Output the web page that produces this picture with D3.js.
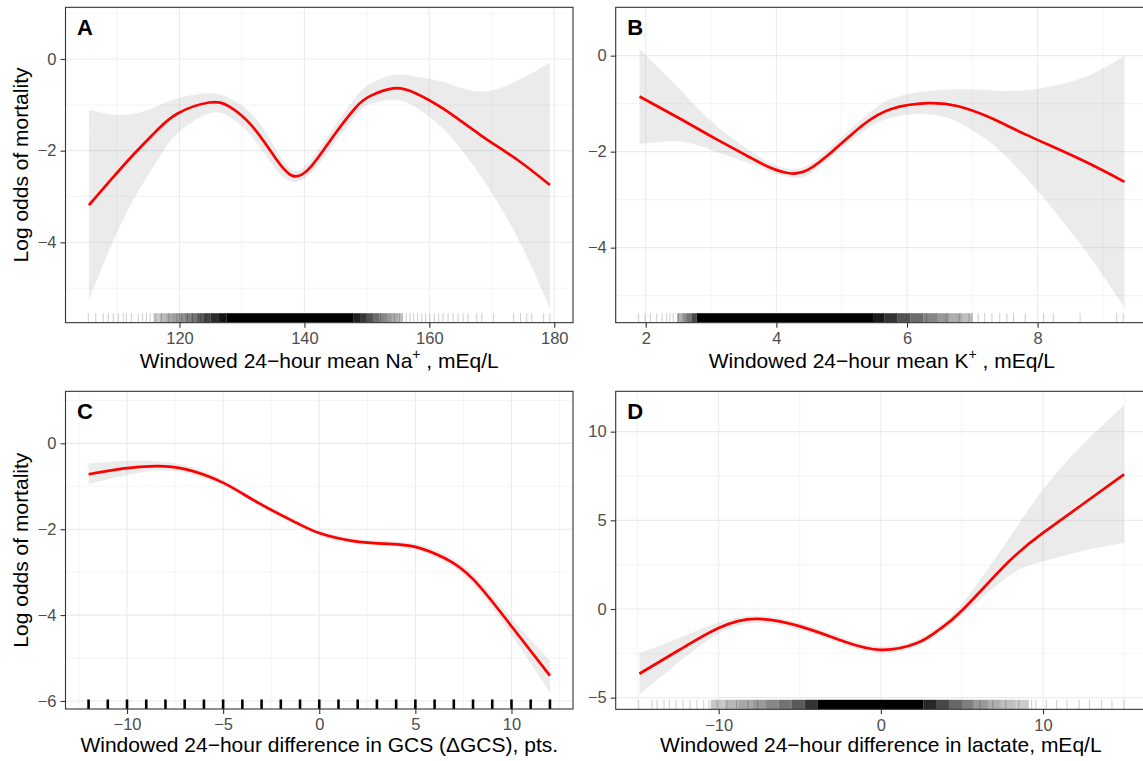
<!DOCTYPE html>
<html>
<head>
<meta charset="utf-8">
<script src="https://cdn.jsdelivr.net/npm/d3@7"></script>
<style>
  html, body { margin: 0; padding: 0; background: #fff; }
  svg { display: block; }
  text { font-family: "Liberation Sans", Arial, Helvetica, sans-serif; }
</style>
</head>
<body>
<svg id="chart" width="1143" height="761"></svg>
<script>
// ---------------- DATA ----------------
// Panel A: sodium
const naX     = [105.5,109,112.6,116.15,119.7,124.75,128,131.6,135.1,138.1,141.05,144.6,148.2,150.5,154.2,157.7,162.4,168.3,174.3,179.3];
const naFit   = [-3.19,-2.64,-2.09,-1.59,-1.19,-0.95,-1.04,-1.46,-2.11,-2.55,-2.35,-1.69,-1.06,-0.81,-0.64,-0.74,-1.10,-1.67,-2.22,-2.75];
const naUpper = [-1.11,-1.21,-1.20,-1.04,-0.86,-0.75,-0.86,-1.20,-1.89,-2.42,-2.20,-1.51,-0.84,-0.55,-0.35,-0.38,-0.51,-0.71,-0.46,-0.08];
const naLower = [-5.26,-4.09,-3.08,-2.28,-1.62,-1.19,-1.26,-1.69,-2.35,-2.68,-2.49,-1.88,-1.24,-0.99,-0.89,-1.04,-1.55,-2.57,-3.95,-5.44];
const naRugLines = [105.4,106.6,107.8,108.6,109.4,110.2,111.0,111.5,112.3,113.4,114.1,114.7,115.3,
                    116.2,117.1,118.3,119.6,120.4,121.3,122.1,123.4,124.2,
                    152.2,153.1,154.4,155.2,
                    156.3,156.9,157.5,158.1,158.8,159.4,160.1,160.8,161.5,162.2,163.0,163.8,164.6,165.4,166.2,
                    167.6,168.4,170.3,173.5,174.6,175.6,176.4,178.3,179.3];
const naRugBands = [[115.8,116.8,0.2],[116.8,117.8,0.27],[117.8,118.8,0.33],[118.8,119.8,0.38],
                    [119.8,120.8,0.43],[120.8,121.8,0.5],[121.8,122.7,0.55],[122.7,123.8,0.65],
                    [123.8,125.0,0.74],[125.0,126.2,0.83],[126.2,127.5,0.92],[127.5,147.8,1],
                    [147.8,148.9,0.88],[148.9,150.0,0.78],[150.0,151.0,0.68],[151.0,152.0,0.58],
                    [152.0,153.0,0.48],[153.0,154.0,0.4],[154.0,155.0,0.32],[155.0,155.8,0.25]];

// Panel B: potassium
const kX     = [1.905,2.52,3.08,3.64,3.92,4.2,4.48,4.87,5.32,5.76,6.32,6.77,7.27,7.83,8.67,9.33];
const kFit   = [-0.85,-1.31,-1.74,-2.15,-2.34,-2.45,-2.38,-1.98,-1.45,-1.11,-0.99,-1.05,-1.29,-1.65,-2.17,-2.63];
const kUpper = [0.14,-0.70,-1.46,-2.02,-2.24,-2.36,-2.28,-1.86,-1.31,-0.90,-0.74,-0.70,-0.72,-0.72,-0.47,0.0];
const kLower = [-1.84,-1.79,-2.0,-2.27,-2.43,-2.53,-2.49,-2.08,-1.59,-1.29,-1.22,-1.38,-1.80,-2.55,-3.95,-5.26];
const kRugLines = [1.89,1.99,2.07,2.17,2.25,2.32,2.37,2.42,2.5,2.6,
                   6.3,6.45,6.6,6.8,6.95,
                   7.09,7.19,7.30,7.42,7.53,7.63,7.81,8.09,8.24,8.65,9.21,9.31];
const kRugBands = [[2.48,2.55,0.3],[2.55,2.62,0.4],[2.62,2.7,0.55],[2.7,2.78,0.72],[2.78,5.48,1],
                   [5.48,5.65,0.9],[5.65,5.85,0.8],[5.85,6.05,0.68],[6.05,6.25,0.58],
                   [6.25,6.45,0.48],[6.45,6.65,0.4],[6.65,6.85,0.32],[6.85,7.01,0.25]];

// Panel C: GCS difference
const gcsX     = [-12,-10.24,-8.51,-6.97,-5.04,-3.12,-1.19,0,1.70,3.62,5.0,6.51,8.04,10.0,12.0];
const gcsFit   = [-0.72,-0.59,-0.53,-0.60,-0.91,-1.40,-1.85,-2.09,-2.27,-2.34,-2.41,-2.67,-3.18,-4.26,-5.41];
const gcsUpper = [-0.47,-0.41,-0.42,-0.51,-0.84,-1.34,-1.79,-2.03,-2.21,-2.28,-2.34,-2.58,-3.07,-4.08,-5.05];
const gcsLower = [-0.95,-0.76,-0.64,-0.69,-0.98,-1.46,-1.91,-2.15,-2.33,-2.40,-2.48,-2.76,-3.30,-4.45,-5.81];
const gcsRugLines = [-12,-11,-10,-9,-8,-7,-6,-5,-4,-3,-2,-1,0,1,2,3,4,5,6,7,8,9,10,11,12];
const gcsRugBands = [];

// Panel D: lactate difference
const lacX     = [-14.89,-12.41,-10,-7.68,-4.98,-2.27,0,2.23,3.58,5.05,7.86,10,12.36,15];
const lacFit   = [-3.65,-2.30,-1.07,-0.56,-0.98,-1.83,-2.30,-1.92,-1.17,-0.04,2.65,4.29,5.85,7.59];
const lacUpper = [-2.49,-1.64,-0.75,-0.38,-0.79,-1.64,-2.11,-1.73,-0.95,0.34,3.92,6.74,9.19,11.49];
const lacLower = [-4.84,-2.96,-1.39,-0.79,-1.17,-2.02,-2.49,-2.11,-1.38,-0.32,1.85,2.69,3.26,3.73];
const lacRugLines = [-14.93,-14.12,-13.8,-13.37,-13.05,-12.63,-12.2,-11.77,-11.34,-10.92,-10.6,-10.1,-9.5,-8.9,
                     -8.2,-7.6,6.1,6.9,7.7,8.5,
                     9.3,9.56,10.2,10.84,11.48,12.23,12.87,13.61,14.25,15.0];
const lacRugBands = [[-10.49,-9.6,0.22],[-9.6,-8.8,0.28],[-8.8,-7.9,0.34],[-7.9,-7.08,0.4],
                     [-7.08,-6.3,0.47],[-6.3,-5.5,0.55],[-5.5,-4.7,0.65],[-4.7,-3.88,0.8],
                     [-3.88,2.63,1],[2.63,3.4,0.85],[3.4,4.2,0.72],[4.2,5.0,0.6],[5.0,5.72,0.5],
                     [5.72,6.6,0.4],[6.6,7.4,0.32],[7.4,8.3,0.25],[8.3,9.13,0.2]];

// Ticks
const naXTicks = [120,140,160,180], naXMinor = [110,130,150,170];
const naYTicks = [-4,-2,0],         naYMinor = [-5,-3,-1,1];
const kXTicks  = [2,4,6,8],         kXMinor  = [3,5,7,9];
const kYTicks  = [-4,-2,0],         kYMinor  = [-5,-3,-1];
const gcsXTicks = [-10,-5,0,5,10],  gcsXMinor = [-12.5,-7.5,-2.5,2.5,7.5,12.5];
const gcsYTicks = [-6,-4,-2,0],     gcsYMinor = [-5,-3,-1,1];
const lacXTicks = [-10,0,10],       lacXMinor = [-15,-5,5,15];
const lacYTicks = [-5,0,5,10],      lacYMinor = [-2.5,2.5,7.5];

const yTitle = "Log odds of mortality";

// ---------------- LAYOUT ----------------
const svg = d3.select("#chart");
const FONT = '"Liberation Sans", Arial, Helvetica, sans-serif';

const panels = [
  { tag:"A", box:{x0:65.5, x1:573, y0:7.33, y1:322.67}, xd:[101.75,183.0], yd:[-5.753,1.127],
    xs:naX, fit:naFit, up:naUpper, lo:naLower, rugL:naRugLines, rugB:naRugBands, rugOp:0.2, rugW:1,
    xt:naXTicks, xm:naXMinor, yt:naYTicks, ym:naYMinor, yTitle:true,
    xTitle:["Windowed 24\u2212hour mean Na","+"," , mEq/L"], titleDy:45 },
  { tag:"B", box:{x0:615.7, x1:1148, y0:7.33, y1:322.67}, xd:[1.54,9.69], yd:[-5.563,1.007],
    xs:kX, fit:kFit, up:kUpper, lo:kLower, rugL:kRugLines, rugB:kRugBands, rugOp:0.2, rugW:1,
    xt:kXTicks, xm:kXMinor, yt:kYTicks, ym:kYMinor, yTitle:false,
    xTitle:["Windowed 24\u2212hour mean K","+"," , mEq/L"], titleDy:45 },
  { tag:"C", box:{x0:65.5, x1:573, y0:391.33, y1:709}, xd:[-13.2,13.2], yd:[-6.187,1.211],
    xs:gcsX, fit:gcsFit, up:gcsUpper, lo:gcsLower, rugL:gcsRugLines, rugB:gcsRugBands, rugOp:1, rugW:2.6,
    xt:gcsXTicks, xm:gcsXMinor, yt:gcsYTicks, ym:gcsYMinor, yTitle:true,
    xTitle:["Windowed 24\u2212hour difference in GCS (\u0394GCS), pts."], titleDy:42.5 },
  { tag:"D", box:{x0:615.7, x1:1146, y0:391.33, y1:709.33}, xd:[-16.35,16.35], yd:[-5.658,12.275],
    xs:lacX, fit:lacFit, up:lacUpper, lo:lacLower, rugL:lacRugLines, rugB:lacRugBands, rugOp:0.2, rugW:1,
    xt:lacXTicks, xm:lacXMinor, yt:lacYTicks, ym:lacYMinor, yTitle:false,
    xTitle:["Windowed 24\u2212hour difference in lactate, mEq/L"], titleDy:42.5 }
];

const fmt = d => d3.format("d")(d);

panels.forEach((p, i) => {
  const b = p.box;
  const x = d3.scaleLinear().domain(p.xd).range([b.x0, b.x1]);
  const y = d3.scaleLinear().domain(p.yd).range([b.y1, b.y0]);
  const clipId = "clip" + i;
  svg.append("clipPath").attr("id", clipId).append("rect")
    .attr("x", b.x0).attr("y", b.y0).attr("width", b.x1 - b.x0).attr("height", b.y1 - b.y0);

  const g = svg.append("g");
  const pg = g.append("g").attr("clip-path", `url(#${clipId})`);

  // grid minor
  pg.selectAll(".gxm").data(p.xm).enter().append("line")
    .attr("x1", d => x(d)).attr("x2", d => x(d)).attr("y1", b.y0).attr("y2", b.y1)
    .attr("stroke", "#EBEBEB").attr("stroke-width", 0.55);
  pg.selectAll(".gym").data(p.ym).enter().append("line")
    .attr("y1", d => y(d)).attr("y2", d => y(d)).attr("x1", b.x0).attr("x2", b.x1)
    .attr("stroke", "#EBEBEB").attr("stroke-width", 0.55);
  // grid major
  pg.selectAll(".gx").data(p.xt).enter().append("line")
    .attr("x1", d => x(d)).attr("x2", d => x(d)).attr("y1", b.y0).attr("y2", b.y1)
    .attr("stroke", "#EBEBEB").attr("stroke-width", 1.1);
  pg.selectAll(".gy").data(p.yt).enter().append("line")
    .attr("y1", d => y(d)).attr("y2", d => y(d)).attr("x1", b.x0).attr("x2", b.x1)
    .attr("stroke", "#EBEBEB").attr("stroke-width", 1.1);

  // ribbon
  const pts = p.xs.map((v, k) => ({x: v, f: p.fit[k], u: p.up[k], l: p.lo[k]}));
  const area = d3.area().x(d => x(d.x)).y0(d => y(d.l)).y1(d => y(d.u)).curve(d3.curveNatural);
  pg.append("path").datum(pts).attr("d", area).attr("fill", "#999999").attr("fill-opacity", 0.2);

  // rug
  const rugLen = (b.y1 - b.y0) * 0.03;
  pg.selectAll(".rb").data(p.rugB).enter().append("rect")
    .attr("x", d => x(d[0])).attr("width", d => x(d[1]) - x(d[0]))
    .attr("y", b.y1 - rugLen).attr("height", rugLen)
    .attr("fill", "#000").attr("fill-opacity", d => d[2]);
  pg.selectAll(".rl").data(p.rugL).enter().append("line")
    .attr("x1", d => x(d)).attr("x2", d => x(d)).attr("y1", b.y1).attr("y2", b.y1 - rugLen)
    .attr("stroke", "#000").attr("stroke-opacity", p.rugOp).attr("stroke-width", p.rugW);

  // fitted line
  const line = d3.line().x(d => x(d.x)).y(d => y(d.f)).curve(d3.curveNatural);
  pg.append("path").datum(pts).attr("d", line).attr("fill", "none")
    .attr("stroke", "#FF0000").attr("stroke-width", 2.7).attr("stroke-linecap", "butt");

  // border
  g.append("rect").attr("x", b.x0).attr("y", b.y0).attr("width", b.x1 - b.x0).attr("height", b.y1 - b.y0)
    .attr("fill", "none").attr("stroke", "#333333").attr("stroke-width", 1.1);

  // axes
  const xa = g.append("g").attr("transform", `translate(0,${b.y1})`)
    .call(d3.axisBottom(x).tickValues(p.xt).tickFormat(fmt).tickSize(5).tickPadding(4.5));
  const ya = g.append("g").attr("transform", `translate(${b.x0},0)`)
    .call(d3.axisLeft(y).tickValues(p.yt).tickFormat(fmt).tickSize(5).tickPadding(4));
  [xa, ya].forEach(a => {
    a.select(".domain").remove();
    a.selectAll(".tick line").attr("stroke", "#333333").attr("stroke-width", 1.1);
    a.selectAll(".tick text").attr("fill", "#4D4D4D").style("font-size", "16.5px").style("font-family", FONT);
  });

  // panel tag
  g.append("text").attr("x", b.x0 + 11.5).attr("y", b.y0 + 28)
    .style("font-size", "22px").style("font-weight", "bold").attr("fill", "#000").text(p.tag);

  // x title
  const cx = (b.x0 + b.x1) / 2;
  const t = g.append("text").attr("x", cx).attr("y", b.y1 + p.titleDy)
    .attr("text-anchor", "middle").style("font-size", "21px").attr("fill", "#000");
  t.append("tspan").text(p.xTitle[0]);
  if (p.xTitle.length > 1) {
    t.append("tspan").attr("dy", -9).style("font-size", "14px").text(p.xTitle[1]);
    t.append("tspan").attr("dy", 9).text(p.xTitle[2]);
  }

  // y title
  if (p.yTitle) {
    const cy = (b.y0 + b.y1) / 2;
    g.append("text").attr("transform", `translate(27.5,${cy}) rotate(-90)`)
      .attr("text-anchor", "middle").style("font-size", "21px").attr("fill", "#000").text(yTitle);
  }
});
</script>
</body>
</html>
